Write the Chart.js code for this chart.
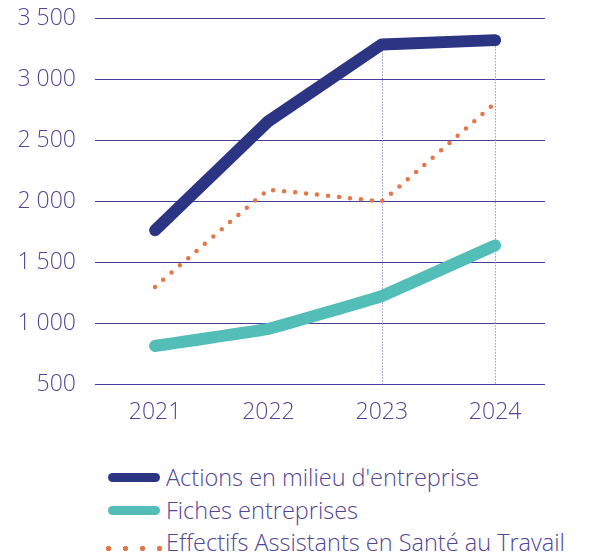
<!DOCTYPE html>
<html>
<head>
<meta charset="UTF-8" />
<script src="https://cdn.jsdelivr.net/npm/chart.js"></script>
<style>
  body { margin: 0; background: #fff; font-family: 'Open Sans', Lato, sans-serif; }
  #wrap { position: relative; width: 614px; height: 556px; overflow: hidden; }
  #chartBox { position: absolute; left: 0; top: -14px; width: 614px; height: 446px; }
  .row { position: absolute; left: 0; height: 32px; width: 614px; }
  .row .label { position: absolute; left: 166px; top: 0; line-height: 32px; font-size: 23.5px; font-weight: 300; color: #4f4697; white-space: nowrap; }
  .swatch { position: absolute; left: 108px; top: 12px; width: 52px; height: 9px; border-radius: 5px; }
  .swatch.dots { left: 100px; width: 68px; top: 18px; height: 9px; border-radius: 0; }
</style>
</head>
<body>
<div id="wrap">
  <div id="chartBox"><canvas id="chart"></canvas></div>
  <div id="legend"></div>
</div>
<script>
  const years = [2021, 2022, 2023, 2024];
  const actionsValues = [1765, 2660, 3290, 3325];
  const fichesValues = [815, 955, 1225, 1640];
  const effectifsValues = [1300, 2095, 2005, 2810];
  const yTicks = [500, 1000, 1500, 2000, 2500, 3000, 3500];
  const guideYears = [2023, 2024];
  const seriesNames = ["Actions en milieu d'entreprise", "Fiches entreprises", "Effectifs Assistants en Santé au Travail"];
  const seriesColors = ['#2b3584', '#53bdb8', '#e4774a'];

  const textColor = '#4f4697';
  const tickFont = { family: "'Open Sans'", size: 23, weight: 300 };
  const toPoints = (vals) => years.map((y, i) => ({ x: y, y: vals[i] }));
  const fmt = (v) => String(v).replace(/\B(?=(\d{3})+(?!\d))/g, ' ');

  // dotted vertical guides from the top series down to the axis
  const guides = {
    id: 'guides',
    beforeDatasetsDraw(chart) {
      const { ctx, chartArea, scales } = chart;
      ctx.save();
      ctx.strokeStyle = '#9a94cf';
      ctx.lineWidth = 1;
      ctx.setLineDash([1.5, 1.5]);
      guideYears.forEach((yr) => {
        const i = years.indexOf(yr);
        const x = Math.round(scales.x.getPixelForValue(yr)) + 0.5;
        const top = scales.y.getPixelForValue(actionsValues[i]);
        ctx.beginPath();
        ctx.moveTo(x, top);
        ctx.lineTo(x, chartArea.bottom);
        ctx.stroke();
      });
      ctx.restore();
    }
  };

  new Chart(document.getElementById('chart'), {
    type: 'line',
    data: {
      datasets: [
        {
          label: seriesNames[0], data: toPoints(actionsValues),
          borderColor: seriesColors[0], borderWidth: 12,
          borderCapStyle: 'round', borderJoinStyle: 'round', tension: 0, pointRadius: 0
        },
        {
          label: seriesNames[1], data: toPoints(fichesValues),
          borderColor: seriesColors[1], borderWidth: 12,
          borderCapStyle: 'round', borderJoinStyle: 'round', tension: 0.05, pointRadius: 0
        },
        {
          label: seriesNames[2], data: toPoints(effectifsValues),
          borderColor: seriesColors[2], borderWidth: 4.5,
          borderCapStyle: 'round', borderDash: [0, 11], tension: 0.03, pointRadius: 0
        }
      ]
    },
    options: {
      responsive: true,
      maintainAspectRatio: false,
      animation: false,
      layout: { padding: { left: 12, right: 69, top: 0, bottom: 0 } },
      plugins: { legend: { display: false }, tooltip: { enabled: false } },
      scales: {
        x: {
          type: 'linear',
          min: 2020.47,
          max: 2024.44,
          afterBuildTicks: (scale) => { scale.ticks = years.map((v) => ({ value: v })); },
          grid: { display: false },
          border: { display: false },
          ticks: {
            padding: 6,
            color: textColor,
            font: tickFont,
            callback: (v) => String(v)
          }
        },
        y: {
          min: 500,
          max: 3500,
          afterBuildTicks: (scale) => { scale.ticks = yTicks.map((v) => ({ value: v })); },
          afterFit: (scale) => { scale.width = 83; },
          grid: { color: '#463c9c', lineWidth: 1, drawTicks: false },
          border: { display: false },
          ticks: {
            padding: 19,
            color: textColor,
            font: tickFont,
            callback: (v) => fmt(v)
          }
        }
      }
    },
    plugins: [guides]
  });

  // legend as html rows
  const legend = document.getElementById('legend');
  seriesNames.forEach((name, i) => {
    const row = document.createElement('div');
    row.className = 'row';
    row.style.top = (461 + i * 32.5) + 'px';
    const sw = document.createElement('span');
    if (i === 2) {
      sw.className = 'swatch dots';
      sw.style.backgroundImage = `radial-gradient(circle, ${seriesColors[i]} 2.4px, transparent 3px)`;
      sw.style.backgroundSize = '17px 9px';
    } else {
      sw.className = 'swatch';
      sw.style.background = seriesColors[i];
    }
    const lbl = document.createElement('span');
    lbl.className = 'label';
    lbl.textContent = name;
    row.appendChild(sw);
    row.appendChild(lbl);
    legend.appendChild(row);
  });
</script>
</body>
</html>
